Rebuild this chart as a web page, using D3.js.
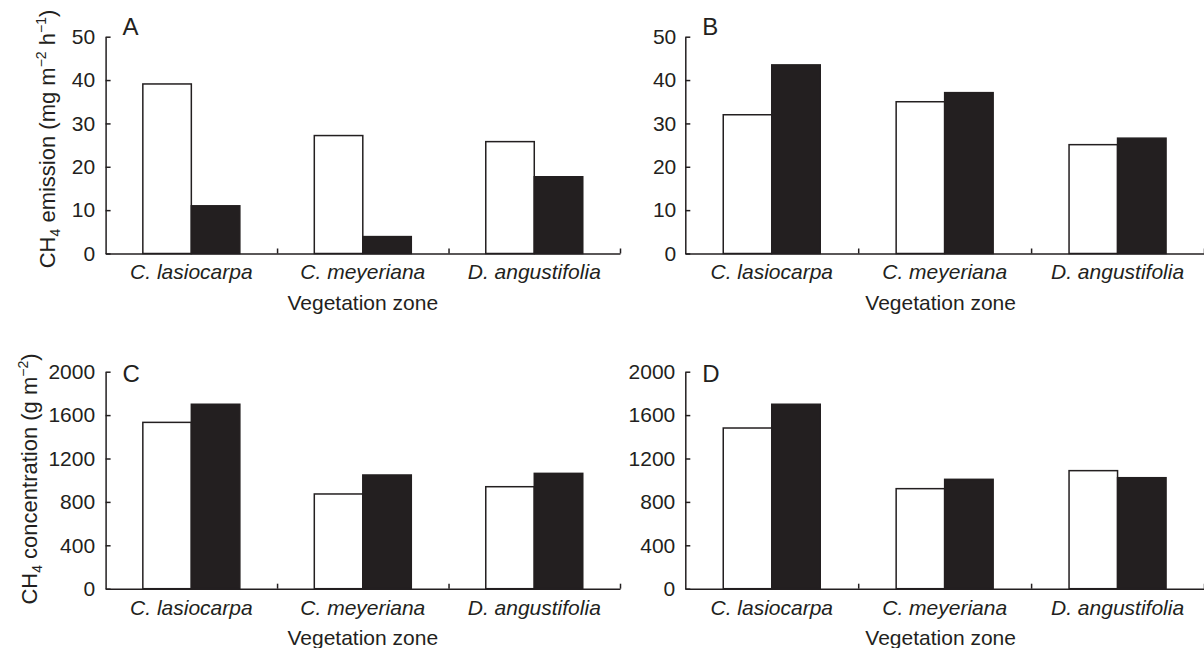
<!DOCTYPE html>
<html>
<head>
<meta charset="utf-8">
<script src="https://cdn.jsdelivr.net/npm/d3@7"></script>
<style>
  body { margin: 0; background: #fff; }
  svg { display: block; font-family: "Liberation Sans", Arial, Helvetica, sans-serif; }
  .tick text { font-size: 21px; fill: #231f20; }
  .domain, .tick line { stroke: #231f20; stroke-width: 1.5px; }
</style>
</head>
<body>
<div id="chart"></div>
<script>
// data
const categories = ["C. lasiocarpa", "C. meyeriana", "D. angustifolia"];
const seriesKeys = ["open", "filled"];

const emissionA_open = [39.1, 27.2, 25.8];
const emissionA_filled = [11.0, 3.9, 17.7];
const emissionB_open = [32.0, 35.0, 25.1];
const emissionB_filled = [43.5, 37.1, 26.6];

const concC_open = [1533, 873, 940];
const concC_filled = [1700, 1048, 1063];
const concD_open = [1481, 922, 1088];
const concD_filled = [1700, 1008, 1023];

const emissionTicks = [0, 10, 20, 30, 40, 50];
const concTicks = [0, 400, 800, 1200, 1600, 2000];

const width = 1204, height = 648;
const ink = "#231f20";

const svg = d3.select("#chart")
    .append("svg")
    .attr("width", width)
    .attr("height", height);

// panel layout (axis boxes)
const panels = [
    { letter: "A", open: emissionA_open, filled: emissionA_filled, ticks: emissionTicks,
      x0: 105.6, x1: 620, top: 36.7, bottom: 253.5, pad: 10.5 },
    { letter: "B", open: emissionB_open, filled: emissionB_filled, ticks: emissionTicks,
      x0: 685.3, x1: 1204, top: 36.7, bottom: 253.5, pad: 9 },
    { letter: "C", open: concC_open, filled: concC_filled, ticks: concTicks,
      x0: 105.6, x1: 620, top: 371.7, bottom: 588.7, pad: 10.5 },
    { letter: "D", open: concD_open, filled: concD_filled, ticks: concTicks,
      x0: 685.3, x1: 1204, top: 371.7, bottom: 588.7, pad: 10 }
];

const groupWidth = 97;

panels.forEach(p => {
    const g = svg.append("g");

    const xScale = d3.scaleBand()
        .domain(categories)
        .range([p.x0, p.x1])
        .padding(0);

    const bw = xScale.bandwidth();
    const xSub = d3.scaleBand()
        .domain(seriesKeys)
        .range([(bw - groupWidth) / 2, (bw + groupWidth) / 2]);

    const yScale = d3.scaleLinear()
        .domain([p.ticks[0], p.ticks[p.ticks.length - 1]])
        .range([p.bottom, p.top]);

    const rows = categories.map((c, i) => ({ cat: c, open: p.open[i], filled: p.filled[i] }));

    // bars
    const groups = g.selectAll("g.grp")
        .data(rows)
        .join("g")
        .attr("class", "grp")
        .attr("transform", d => `translate(${xScale(d.cat)},0)`);

    groups.selectAll("rect")
        .data(d => seriesKeys.map(k => ({ key: k, value: d[k] })))
        .join("rect")
        .attr("x", d => xSub(d.key))
        .attr("y", d => yScale(d.value))
        .attr("width", xSub.bandwidth())
        .attr("height", d => yScale(0) - yScale(d.value))
        .attr("fill", d => d.key === "open" ? "#fff" : ink)
        .attr("stroke", ink)
        .attr("stroke-width", 1.5);

    // y axis, ticks pointing inward
    g.append("g")
        .attr("transform", `translate(${p.x0},0)`)
        .call(d3.axisLeft(yScale)
            .tickValues(p.ticks)
            .tickSizeInner(-5)
            .tickSizeOuter(0)
            .tickPadding(p.pad)
            .tickFormat(d3.format("d")));

    // x axis line with boundary ticks
    const xEdge = d3.scaleLinear().domain([0, categories.length]).range([p.x0, p.x1]);
    g.append("g")
        .attr("transform", `translate(0,${p.bottom})`)
        .call(d3.axisBottom(xEdge)
            .tickValues(d3.range(1, categories.length + 1))
            .tickSizeInner(-5)
            .tickSizeOuter(0)
            .tickFormat(""));

    // category labels
    const labelAxis = g.append("g")
        .attr("transform", `translate(0,${p.bottom})`)
        .call(d3.axisBottom(xScale).tickSize(0).tickPadding(11));
    labelAxis.select(".domain").remove();
    labelAxis.selectAll("text").attr("font-style", "italic");

    // x axis title
    g.append("text")
        .attr("x", (p.x0 + p.x1) / 2 - (p.x1 === width ? 4 : 0))
        .attr("y", p.bottom + 56.5)
        .attr("text-anchor", "middle")
        .attr("font-size", 21)
        .attr("fill", ink)
        .text("Vegetation zone");

    // panel letter
    g.append("text")
        .attr("x", p.x0 + 17)
        .attr("y", p.letter === "A" || p.letter === "B" ? 35 : 382)
        .attr("font-size", 24)
        .attr("fill", ink)
        .text(p.letter);
});

// y axis titles
function yTitle(cx, cy, parts) {
    const t = svg.append("text")
        .attr("transform", `translate(${cx},${cy}) rotate(-90)`)
        .attr("text-anchor", "middle")
        .attr("font-size", 22)
        .attr("fill", ink);
    parts.forEach(([txt, kind]) => {
        const s = t.append("tspan").text(txt);
        if (kind === "sub") s.attr("font-size", 14).attr("dy", 5);
        if (kind === "sup") s.attr("font-size", 14).attr("dy", -9);
        if (kind === "back-sub") s.attr("dy", -5);
        if (kind === "back-sup") s.attr("dy", 9);
    });
}

yTitle(55, 139, [
    ["CH"], ["4", "sub"], [" emission (mg m", "back-sub"], ["\u22122", "sup"],
    [" h", "back-sup"], ["\u22121", "sup"], [")", "back-sup"]
]);

yTitle(37, 479, [
    ["CH"], ["4", "sub"], [" concentration (g m", "back-sub"], ["\u22122", "sup"], [")", "back-sup"]
]);
</script>
</body>
</html>
